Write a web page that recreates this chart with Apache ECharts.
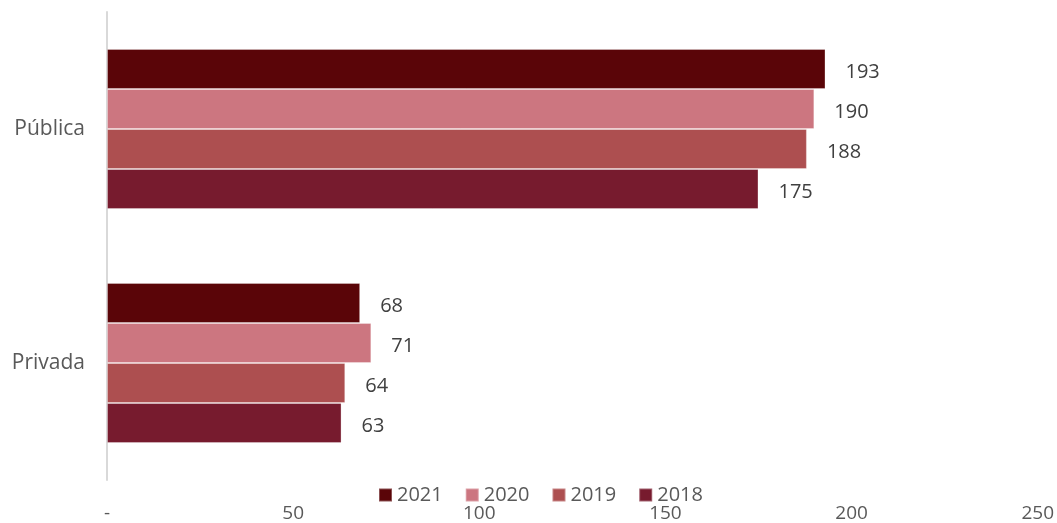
<!DOCTYPE html>
<html>
<head>
<meta charset="utf-8">
<script src="https://cdn.jsdelivr.net/npm/echarts@6/dist/echarts.min.js"></script>
<style>html,body{margin:0;padding:0;background:#fff;}#c{width:1057px;height:523px;}</style>
</head>
<body>
<div id="c"></div>
<script>
const categories = ['Pública', 'Privada'];
const years = ['2021', '2020', '2019', '2018'];
const values2021 = [193, 68];
const values2020 = [190, 71];
const values2019 = [188, 64];
const values2018 = [175, 63];
const xTicks = [0, 50, 100, 150, 200, 250];
const colors = ['#5a0508', '#cc7680', '#ad4f50', '#771b2e'];

const seriesValues = [values2021, values2020, values2019, values2018];
const font = '"Open Sans", "Noto Sans", sans-serif';

const chart = echarts.init(document.getElementById('c'));
chart.setOption({
  animation: false,
  grid: { left: 107, right: 17, top: 12, bottom: 43, containLabel: false },
  legend: {
    data: years,
    left: 373, top: 480,
    itemWidth: 13, itemHeight: 13, itemGap: 22,
    icon: 'rect',
    textStyle: { fontFamily: font, fontSize: 20, color: '#595959' }
  },
  xAxis: {
    type: 'value', min: xTicks[0], max: xTicks[xTicks.length - 1], interval: xTicks[1] - xTicks[0],
    axisLine: { show: false }, axisTick: { show: false }, splitLine: { show: false },
    axisLabel: {
      margin: 24, fontFamily: font, fontSize: 19, color: '#595959',
      formatter: v => v === 0 ? '-' : String(v)
    }
  },
  yAxis: {
    type: 'category', data: categories, inverse: true,
    axisLine: { show: true, lineStyle: { color: '#d9d9d9', width: 2 } },
    axisTick: { show: false },
    axisLabel: { margin: 22, fontFamily: font, fontSize: 21, color: '#595959' }
  },
  series: years.map((y, i) => ({
    name: y, type: 'bar', data: seriesValues[i],
    barGap: '0%', barCategoryGap: '31.6%',
    itemStyle: { color: colors[i], borderColor: 'rgba(255,255,255,0.3)', borderWidth: 1 },
    label: {
      show: true, position: 'right', distance: 20, offset: [0, 3],
      fontFamily: font, fontSize: 20, color: '#404040'
    }
  }))
});
</script>
</body>
</html>
